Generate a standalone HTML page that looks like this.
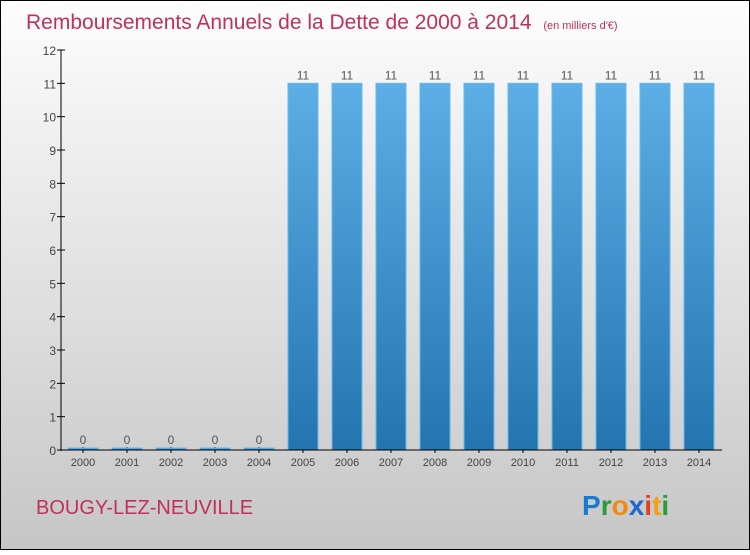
<!DOCTYPE html>
<html><head><meta charset="utf-8"><style>
body{margin:0;width:750px;height:550px;overflow:hidden}
svg text{font-family:"Liberation Sans",sans-serif}
</style></head><body>
<svg width="750" height="550" viewBox="0 0 750 550">
<defs>
<linearGradient id="bg" x1="0" y1="0" x2="0" y2="1"><stop offset="0" stop-color="#fdfdfd"/><stop offset="1" stop-color="#c6c6c6"/></linearGradient>
<linearGradient id="bar" x1="0" y1="0" x2="0" y2="1"><stop offset="0" stop-color="#5daee6"/><stop offset="1" stop-color="#2374b0"/></linearGradient>
</defs>
<rect x="0.5" y="0.5" width="749" height="549" fill="url(#bg)" stroke="#000"/>
<text x="26" y="29" font-size="21" fill="#c0305a">Remboursements Annuels de la Dette de 2000 à 2014 <tspan font-size="11" dx="6">(en milliers d'€)</tspan></text>
<g id="yaxis"></g><g id="xaxis"></g><g id="bars"></g>
<line x1="61" y1="50" x2="61" y2="451" stroke="#000"/>
<line x1="60" y1="450" x2="722" y2="450" stroke="#000"/>
<text x="36" y="514" font-size="20" fill="#c0305a">BOUGY-LEZ-NEUVILLE</text>
<text x="582" y="515" font-size="28" font-weight="bold"><tspan fill="#1a7ad0">P</tspan><tspan fill="#2a9a3a">r</tspan><tspan fill="#f08a10">o</tspan><tspan fill="#1a6ad0">x</tspan><tspan fill="#e04020">i</tspan><tspan fill="#f0a010">t</tspan><tspan fill="#2a9a3a">i</tspan></text>
</svg>
<script>
const years=["2000","2001","2002","2003","2004","2005","2006","2007","2008","2009","2010","2011","2012","2013","2014"];
const values=[0,0,0,0,0,11,11,11,11,11,11,11,11,11,11];
const yTicks=[0,1,2,3,4,5,6,7,8,9,10,11,12];
const NS="http://www.w3.org/2000/svg";
const y=v=>450-v*400/12;
const x=i=>83+i*44;
function mk(t,a,p){const e=document.createElementNS(NS,t);for(const k in a)e.setAttribute(k,a[k]);p.appendChild(e);return e;}
const ya=document.getElementById('yaxis'),xa=document.getElementById('xaxis'),bg=document.getElementById('bars');
yTicks.forEach(v=>{
 const l=mk('line',{x1:57,x2:65,y1:y(v),y2:y(v),stroke:'#000'},ya);
 
 
 const t=mk('text',{x:56,y:y(v)+5,'font-size':12,fill:'#444','text-anchor':'end'},ya);t.textContent=v;
 
 
});
years.forEach((yr,i)=>{
 const t=mk('text',{x:x(i),y:466,'font-size':11,fill:'#444','text-anchor':'middle'},xa);t.textContent=yr;
 
 
 const tk=mk('line',{x1:x(i),x2:x(i),y1:447,y2:453,stroke:'#000'},xa);
 
 
 const v=values[i];const top=Math.min(y(v),448);
 const r=mk('rect',{x:x(i)-15,y:top,width:30,height:450-top,fill:'url(#bar)',stroke:'#6ab8ee','stroke-width':1},bg);
 
 
 const lb=mk('text',{x:x(i),y:top-4,'font-size':12,fill:'#555','text-anchor':'middle'},bg);lb.textContent=v;
 
 
});
</script>
</body></html>
